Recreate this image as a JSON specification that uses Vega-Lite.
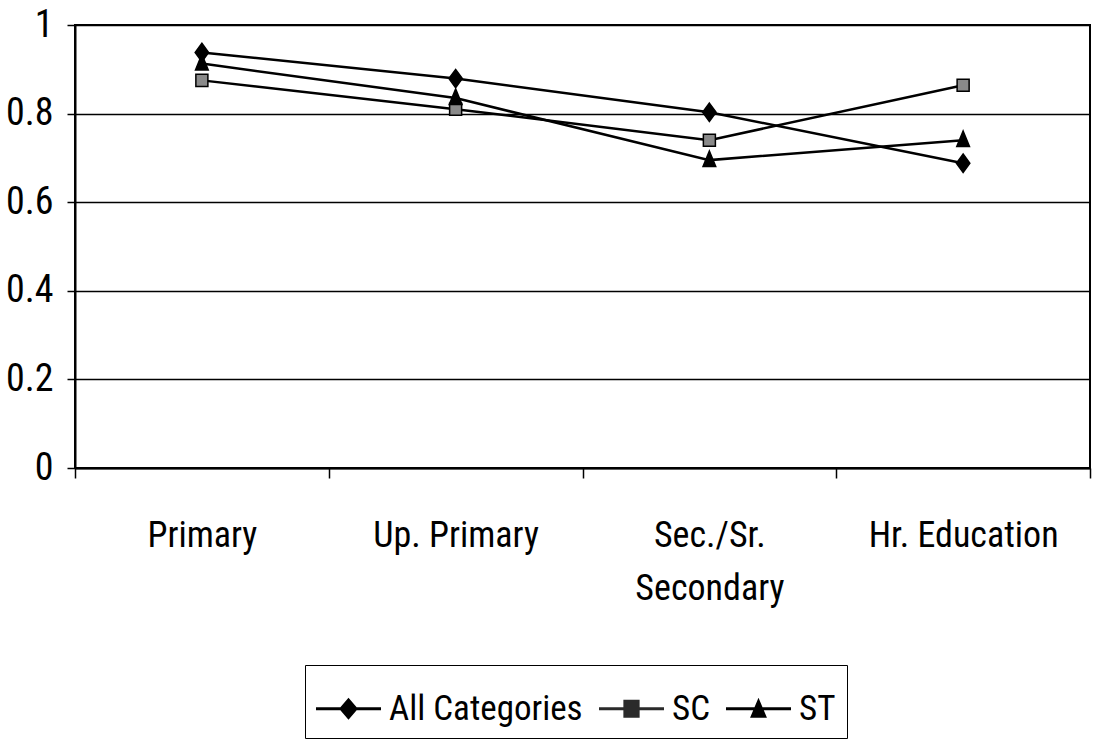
{
  "$schema": "https://vega.github.io/schema/vega-lite/v6.json",
  "width": 1015,
  "height": 443,
  "autosize": {"type": "none"},
  "padding": {"left": 75, "top": 25, "right": 6, "bottom": 276},
  "background": "white",
  "config": {
    "font": "Roboto Condensed, Liberation Sans Narrow, DejaVu Sans Condensed, sans-serif",
    "view": {"stroke": "black", "strokeWidth": 2}
  },
  "data": {
    "values": [
      {"level": "Primary", "series": "All Categories", "value": 0.938},
      {"level": "Up. Primary", "series": "All Categories", "value": 0.879},
      {"level": "Sec./Sr. Secondary", "series": "All Categories", "value": 0.803},
      {"level": "Hr. Education", "series": "All Categories", "value": 0.688},
      {"level": "Primary", "series": "SC", "value": 0.875},
      {"level": "Up. Primary", "series": "SC", "value": 0.81},
      {"level": "Sec./Sr. Secondary", "series": "SC", "value": 0.74},
      {"level": "Hr. Education", "series": "SC", "value": 0.864},
      {"level": "Primary", "series": "ST", "value": 0.913},
      {"level": "Up. Primary", "series": "ST", "value": 0.835},
      {"level": "Sec./Sr. Secondary", "series": "ST", "value": 0.695},
      {"level": "Hr. Education", "series": "ST", "value": 0.74}
    ]
  },
  "encoding": {
    "x": {
      "field": "level",
      "type": "nominal",
      "sort": ["Primary", "Up. Primary", "Sec./Sr. Secondary", "Hr. Education"],
      "scale": {"type": "band", "paddingInner": 0, "paddingOuter": 0},
      "axis": {
        "title": null,
        "labelAngle": 0,
        "tickBand": "extent",
        "ticks": true,
        "tickSize": 10,
        "tickColor": "black",
        "tickWidth": 1.5,
        "domainColor": "black",
        "domainWidth": 2,
        "labelFontSize": 36,
        "labelColor": "black",
        "labelPadding": 40,
        "labelLineHeight": 53,
        "labelLimit": 400,
        "labelExpr": "datum.value == 'Sec./Sr. Secondary' ? ['Sec./Sr.', 'Secondary'] : datum.value",
        "grid": false
      }
    },
    "y": {
      "field": "value",
      "type": "quantitative",
      "scale": {"domain": [0, 1]},
      "axis": {
        "title": null,
        "values": [0, 0.2, 0.4, 0.6, 0.8, 1],
        "format": "~g",
        "grid": true,
        "gridColor": "black",
        "gridWidth": 1.5,
        "gridOpacity": 1,
        "tickSize": 8,
        "tickColor": "black",
        "tickWidth": 1.5,
        "domainColor": "black",
        "domainWidth": 2,
        "labelFontSize": 38,
        "labelColor": "black",
        "labelPadding": 14
      }
    }
  },
  "layer": [
    {
      "mark": {"type": "line", "color": "black", "strokeWidth": 2.5},
      "encoding": {"detail": {"field": "series", "type": "nominal"}}
    },
    {
      "mark": {"type": "point", "filled": true, "size": 200, "stroke": "black", "strokeWidth": 1.5, "opacity": 1},
      "encoding": {
        "shape": {
          "field": "series",
          "type": "nominal",
          "scale": {
            "domain": ["All Categories", "SC", "ST"],
            "range": ["M0,-1.3L0.95,0L0,1.3L-0.95,0Z", "M-0.85,-0.85H0.85V0.85H-0.85Z", "M0,-1.3L0.9,0.9H-0.9Z"]
          },
          "legend": null
        },
        "fill": {
          "field": "series",
          "type": "nominal",
          "scale": {"domain": ["All Categories", "SC", "ST"], "range": ["black", "#8a8a8a", "black"]},
          "legend": null
        }
      }
    },
    {
      "transform": [{"filter": "false"}],
      "mark": {"type": "point", "filled": true, "opacity": 1},
      "encoding": {
        "shape": {
          "field": "series",
          "type": "nominal",
          "scale": {
            "domain": ["All Categories", "SC", "ST"],
            "range": [
              "M-1,-0.045H1V0.045H-1ZM0,-0.34L0.29,0L0,0.34L-0.29,0Z",
              "M-1,-0.045H1V0.045H-1ZM-0.25,-0.28H0.25V0.28H-0.25Z",
              "M-1,-0.045H1V0.045H-1ZM0,-0.34L0.26,0.28H-0.26Z"
            ]
          },
          "legend": {
            "title": null,
            "orient": "none",
            "legendX": 230,
            "legendY": 640,
            "direction": "horizontal",
            "symbolSize": 4225,
            "symbolStrokeWidth": 0,
            "symbolOpacity": 1,
            "labelFontSize": 35,
            "labelColor": "black",
            "labelOffset": 8,
            "labelLimit": 500,
            "columnPadding": 16,
            "strokeColor": "black",
            "padding": 11
          }
        },
        "fill": {
          "field": "series",
          "type": "nominal",
          "scale": {"domain": ["All Categories", "SC", "ST"], "range": ["black", "#2a2a2a", "black"]}
        }
      }
    }
  ],
  "resolve": {"scale": {"shape": "independent", "fill": "independent"}}
}
